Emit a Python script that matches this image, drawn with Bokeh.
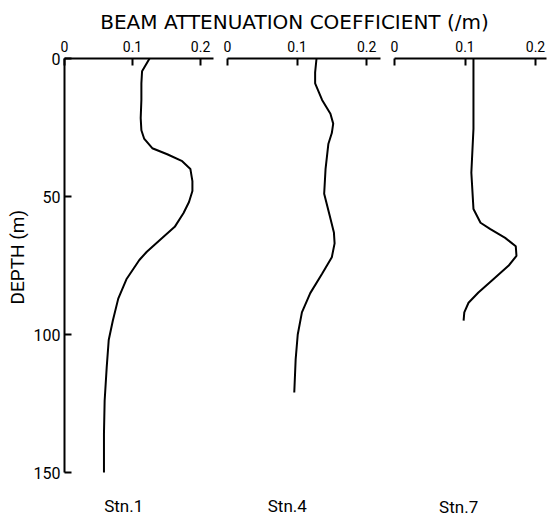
from bokeh.plotting import figure
from bokeh.layouts import column, row
from bokeh.models import Range1d, FixedTicker, Label, NumeralTickFormatter, Title
from bokeh.embed import file_html
from bokeh.resources import INLINE

FONT = "Roboto"
TITLE_FONT = "DejaVu Sans"

# ---- data ----
title_text = "BEAM ATTENUATION COEFFICIENT (/m)"
depth_label = "DEPTH (m)"
stations = ["Stn.1", "Stn.4", "Stn.7"]

stn1_depth = [0, 4.6, 9, 15, 21.6, 26, 29, 32.5, 34.7, 37.2, 40, 44.4, 48, 52, 56, 61, 66, 70, 73, 80, 87, 95, 102, 112, 124, 136, 150]
stn1_coef = [0.125, 0.114, 0.113, 0.113, 0.112, 0.113, 0.117, 0.129, 0.151, 0.173, 0.185, 0.188, 0.188, 0.183, 0.175, 0.162, 0.139, 0.121, 0.110, 0.091, 0.079, 0.071, 0.065, 0.062, 0.059, 0.058, 0.058]

stn4_depth = [0, 5, 9, 15, 20, 23.6, 27, 31, 40, 49, 57, 63, 67, 72, 78, 85, 92, 100, 109, 121]
stn4_coef = [0.128, 0.126, 0.126, 0.136, 0.148, 0.152, 0.150, 0.145, 0.141, 0.139, 0.147, 0.153, 0.154, 0.150, 0.136, 0.119, 0.107, 0.101, 0.098, 0.096]

stn7_depth = [0, 10, 25.5, 41.4, 54.5, 59.5, 61.8, 65, 68, 71.5, 75, 79.8, 84.8, 88.5, 92, 95]
stn7_coef = [0.112, 0.112, 0.112, 0.109, 0.112, 0.122, 0.136, 0.157, 0.172, 0.173, 0.162, 0.141, 0.119, 0.105, 0.099, 0.098]

coef_ticks = [0, 0.1, 0.2]
depth_ticks = [0, 50, 100, 150]

TITLE_H = 33
ROW_H = 484
TOP = 25
Y_MAX = 166.3


def make_panel(depth, coef, name, width, left, right, xmax, first, name_x, name_y):
    p = figure(width=width, height=ROW_H,
               x_range=Range1d(0, xmax), y_range=Range1d(Y_MAX, 0),
               x_axis_location="above",
               y_axis_location="left" if first else None,
               output_backend="svg", toolbar_location=None,
               min_border_left=left, min_border_right=right,
               min_border_top=TOP, min_border_bottom=0)
    p.outline_line_color = None
    p.grid.visible = False
    p.background_fill_color = "white"
    p.border_fill_color = "white"

    xa = p.xaxis[0]
    xa.ticker = FixedTicker(ticks=coef_ticks)
    xa.formatter = NumeralTickFormatter(format="0.[0]")
    xa.bounds = (0, xmax)
    xa.major_tick_in = 7
    xa.major_tick_out = 0
    xa.minor_tick_line_color = None
    xa.axis_line_width = 2
    xa.major_tick_line_width = 2
    xa.major_label_text_font = FONT
    xa.major_label_text_font_size = "14px"
    xa.major_label_text_color = "black"
    xa.major_label_standoff = 7

    if first:
        ya = p.yaxis[0]
        ya.ticker = FixedTicker(ticks=depth_ticks)
        ya.bounds = (0, 150)
        ya.major_tick_in = 7
        ya.major_tick_out = 0
        ya.minor_tick_line_color = None
        ya.axis_line_width = 2
        ya.major_tick_line_width = 2
        ya.major_label_text_font = FONT
        ya.major_label_text_font_size = "16px"
        ya.major_label_text_color = "black"
        ya.major_label_standoff = 4
        p.add_layout(Title(text=depth_label, align="left", offset=213, standoff=3,
                           text_font=FONT, text_font_size="19px",
                           text_font_style="normal", text_color="black"), "left")

    p.line(x=coef, y=depth, line_width=2, line_color="black")
    p.add_layout(Label(x=name_x, y=name_y, text=name, text_align="center",
                       text_baseline="middle", text_font=FONT,
                       text_font_size="17px", text_color="black"))
    return p


p1 = make_panel(stn1_depth, stn1_coef, stations[0], 220, 64, 7, 0.219, True, 0.087, 162)
p2 = make_panel(stn4_depth, stn4_coef, stations[1], 167, 7, 7, 0.22, False, 0.086, 162)
p3 = make_panel(stn7_depth, stn7_coef, stations[2], 161, 7, 2, 0.2156, False, 0.091, 162.5)

pt = figure(width=548, height=TITLE_H, x_range=Range1d(0, 548), y_range=Range1d(0, TITLE_H),
            x_axis_location=None, y_axis_location=None,
            output_backend="svg", toolbar_location=None, min_border=0)
pt.outline_line_color = None
pt.grid.visible = False
pt.add_layout(Label(x=294, y=12, text=title_text, text_align="center",
                    text_baseline="middle", text_font=TITLE_FONT, text_font_size="20px",
                    text_color="black"))

layout = column(pt, row(p1, p2, p3, spacing=0), spacing=0)

open("out.html", "w").write(file_html(layout, INLINE))
